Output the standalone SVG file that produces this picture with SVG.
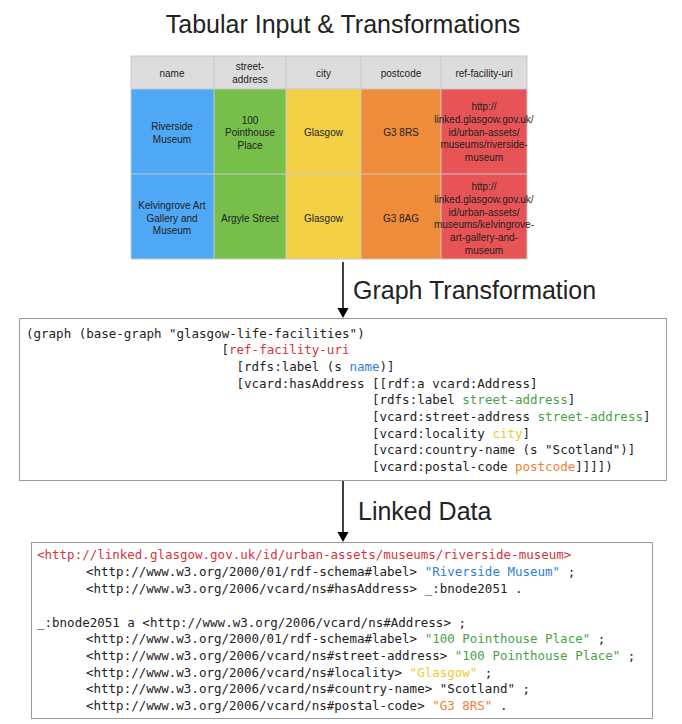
<svg xmlns="http://www.w3.org/2000/svg" width="682" height="724" viewBox="0 0 682 724">
<style>
.title{font-family:"Liberation Sans",Arial,sans-serif;font-size:25px;fill:#222}
.cell{font-family:"Liberation Sans",Arial,sans-serif;font-size:10px;fill:#222;text-anchor:middle}
.code{font-family:"DejaVu Sans Mono","Liberation Mono",monospace;font-size:12.5px;fill:#222}
.box{fill:#fff;stroke:#9a9a9a;stroke-width:1}
.grid{stroke:#c8c8c8;stroke-width:1}
.red{fill:#d7333a}.blue{fill:#2f7fd6}.green{fill:#4c9f48}.yellow{fill:#f3c633}.orange{fill:#ef7d33}
.conn{stroke:#000;stroke-width:1.5;fill:none}
</style>
<rect width="682" height="724" fill="#fff"/>
<text class="title" x="343" y="33" text-anchor="middle">Tabular Input &amp; Transformations</text>

<g id="table">
<rect x="131" y="56" width="396" height="33" fill="#dcdcdc"/>
<rect x="131" y="89" width="83" height="170" fill="#4ea8f5"/>
<rect x="214" y="89" width="72" height="170" fill="#75bf4a"/>
<rect x="286" y="89" width="75" height="170" fill="#f4d046"/>
<rect x="361" y="89" width="80" height="170" fill="#ef8c3b"/>
<rect x="441" y="89" width="86" height="170" fill="#e85455"/>
<g class="grid">
<rect x="131" y="56" width="396" height="203" fill="none"/>
<line x1="131" y1="89" x2="527" y2="89"/>
<line x1="131" y1="174" x2="527" y2="174"/>
<line x1="214" y1="56" x2="214" y2="259"/>
<line x1="286" y1="56" x2="286" y2="259"/>
<line x1="361" y1="56" x2="361" y2="259"/>
<line x1="441" y1="56" x2="441" y2="259"/>
</g>
<text class="cell" x="172" y="76.5">name</text>
<text class="cell" x="250" y="70">street-</text>
<text class="cell" x="250" y="83">address</text>
<text class="cell" x="323.5" y="76.5">city</text>
<text class="cell" x="401" y="76.5">postcode</text>
<text class="cell" x="484" y="76.5">ref-facility-uri</text>

<text class="cell" x="172" y="129.5">Riverside</text>
<text class="cell" x="172" y="142.5">Museum</text>
<text class="cell" x="250" y="123.5">100</text>
<text class="cell" x="250" y="136">Pointhouse</text>
<text class="cell" x="250" y="149">Place</text>
<text class="cell" x="323.5" y="136">Glasgow</text>
<text class="cell" x="401" y="136">G3 8RS</text>
<text class="cell" x="484" y="110">http://</text>
<text class="cell" x="484" y="123">linked.glasgow.gov.uk/</text>
<text class="cell" x="484" y="135.5">id/urban-assets/</text>
<text class="cell" x="484" y="148">museums/riverside-</text>
<text class="cell" x="484" y="161">museum</text>

<text class="cell" x="172" y="209">Kelvingrove Art</text>
<text class="cell" x="172" y="221.5">Gallery and</text>
<text class="cell" x="172" y="234">Museum</text>
<text class="cell" x="250" y="221.5">Argyle Street</text>
<text class="cell" x="323.5" y="221.5">Glasgow</text>
<text class="cell" x="401" y="221.5">G3 8AG</text>
<text class="cell" x="484" y="190">http://</text>
<text class="cell" x="484" y="203">linked.glasgow.gov.uk/</text>
<text class="cell" x="484" y="215.5">id/urban-assets/</text>
<text class="cell" x="484" y="228">museums/kelvingrove-</text>
<text class="cell" x="484" y="241">art-gallery-and-</text>
<text class="cell" x="484" y="253.5">museum</text>
</g>

<g id="connectors">
<line class="conn" x1="343" y1="262" x2="343" y2="310"/>
<polygon points="337.5,308 348.5,308 343,318" fill="#000"/>
<line class="conn" x1="343" y1="481" x2="343" y2="534"/>
<polygon points="337.5,532 348.5,532 343,542" fill="#000"/>
<text class="title" x="353" y="299">Graph Transformation</text>
<text class="title" x="358" y="520">Linked Data</text>
</g>

<g id="graph-template">
<rect class="box" x="19.5" y="318.5" width="647" height="162"/>
<text class="code" xml:space="preserve"><tspan x="26" y="337.5">(graph (base-graph "glasgow-life-facilities")</tspan><tspan x="221.5" y="354">[<tspan class="red">ref-facility-uri</tspan></tspan><tspan x="236.5" y="371">[rdfs:label (s <tspan class="blue">name</tspan>)]</tspan><tspan x="236.5" y="387.5">[vcard:hasAddress [[rdf:a vcard:Address]</tspan><tspan x="372" y="404">[rdfs:label <tspan class="green">street-address</tspan>]</tspan><tspan x="372" y="421">[vcard:street-address <tspan class="green">street-address</tspan>]</tspan><tspan x="372" y="437.5">[vcard:locality <tspan class="yellow">city</tspan>]</tspan><tspan x="372" y="454">[vcard:country-name (s "Scotland")]</tspan><tspan x="372" y="471">[vcard:postal-code <tspan class="orange">postcode</tspan>]]]])</tspan></text>
</g>

<g id="linked-data">
<rect class="box" x="31.5" y="542.5" width="621" height="176"/>
<text class="code" xml:space="preserve"><tspan x="37" y="559" class="red">&lt;http://linked.glasgow.gov.uk/id/urban-assets/museums/riverside-museum&gt;</tspan><tspan x="86" y="576">&lt;http://www.w3.org/2000/01/rdf-schema#label&gt; <tspan class="blue">"Riverside Museum"</tspan> ;</tspan><tspan x="86" y="592.5">&lt;http://www.w3.org/2006/vcard/ns#hasAddress&gt; _:bnode2051 .</tspan><tspan x="37" y="626.5">_:bnode2051 a &lt;http://www.w3.org/2006/vcard/ns#Address&gt; ;</tspan><tspan x="86" y="643">&lt;http://www.w3.org/2000/01/rdf-schema#label&gt; <tspan class="green">"100 Pointhouse Place"</tspan> ;</tspan><tspan x="86" y="660">&lt;http://www.w3.org/2006/vcard/ns#street-address&gt; <tspan class="green">"100 Pointhouse Place"</tspan> ;</tspan><tspan x="86" y="676.5">&lt;http://www.w3.org/2006/vcard/ns#locality&gt; <tspan class="yellow">"Glasgow"</tspan> ;</tspan><tspan x="86" y="693">&lt;http://www.w3.org/2006/vcard/ns#country-name&gt; "Scotland" ;</tspan><tspan x="86" y="710">&lt;http://www.w3.org/2006/vcard/ns#postal-code&gt; <tspan class="orange">"G3 8RS"</tspan> .</tspan></text>
</g>
</svg>
